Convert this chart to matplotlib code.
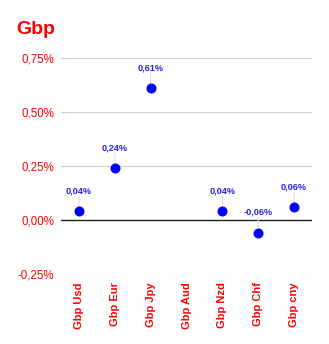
import numpy as np
import matplotlib.pyplot as plt

plt.rcParams["font.family"] = ["Liberation Sans", "DejaVu Sans"]

# Data
categories = ["Gbp Usd", "Gbp Eur", "Gbp Jpy", "Gbp Aud", "Gbp Nzd", "Gbp Chf", "Gbp cny"]
values = [0.04, 0.24, 0.61, np.nan, 0.04, -0.06, 0.06]
y_ticks = [-0.25, 0.0, 0.25, 0.50, 0.75]
y_tick_labels = ["-0,25%", "0,00%", "0,25%", "0,50%", "0,75%"]

RED = "#ff0000"
BLUE = "#0000ff"


def fmt(v):
    return f"{v:.2f}%".replace(".", ",")


def main():
    fig = plt.figure(figsize=(3.29, 3.44), dpi=100)
    ax = fig.add_axes([61 / 329, 1 - 274 / 344, 251 / 329, 216 / 344])

    x = np.arange(len(categories))

    # gridlines
    for t in y_ticks:
        if t == 0:
            ax.axhline(t, color="#222222", lw=1.0, zorder=1)
        else:
            ax.axhline(t, color="#cccccc", lw=0.8, zorder=1)

    ax.plot(x, values, "o", color=BLUE, markersize=6.2, linestyle="none", zorder=3)

    # data labels with leader lines
    for xi, v in zip(x, values):
        if np.isnan(v):
            continue
        ax.annotate("", xy=(xi, v), xytext=(0, 11), textcoords="offset points",
                    arrowprops=dict(arrowstyle="-", color="#dddddd", lw=0.8, shrinkA=0, shrinkB=3),
                    zorder=2)
        ax.annotate(fmt(v), xy=(xi, v), xytext=(0, 11.5), textcoords="offset points",
                    ha="center", va="bottom", fontsize=6.6, fontweight="bold",
                    color="#2222ee", zorder=4)

    ax.set_xlim(-0.5, len(categories) - 0.5)
    ax.set_ylim(-0.25, 0.75)
    ax.set_yticks(y_ticks)
    ax.set_yticklabels(y_tick_labels, color=RED, fontsize=8.3)
    ax.set_xticks(x)
    ax.set_xticklabels(categories, rotation=90, color=RED, fontsize=8, fontweight="bold")
    ax.tick_params(axis="both", length=0)
    ax.tick_params(axis="y", pad=5)
    ax.tick_params(axis="x", pad=6)
    for s in ax.spines.values():
        s.set_visible(False)

    fig.text(16 / 329, 1 - 29 / 344, "Gbp", color=RED, fontsize=14, fontweight="bold",
             ha="left", va="center")

    fig.savefig("out.png", dpi=100)
    plt.close(fig)


if __name__ == "__main__":
    main()
